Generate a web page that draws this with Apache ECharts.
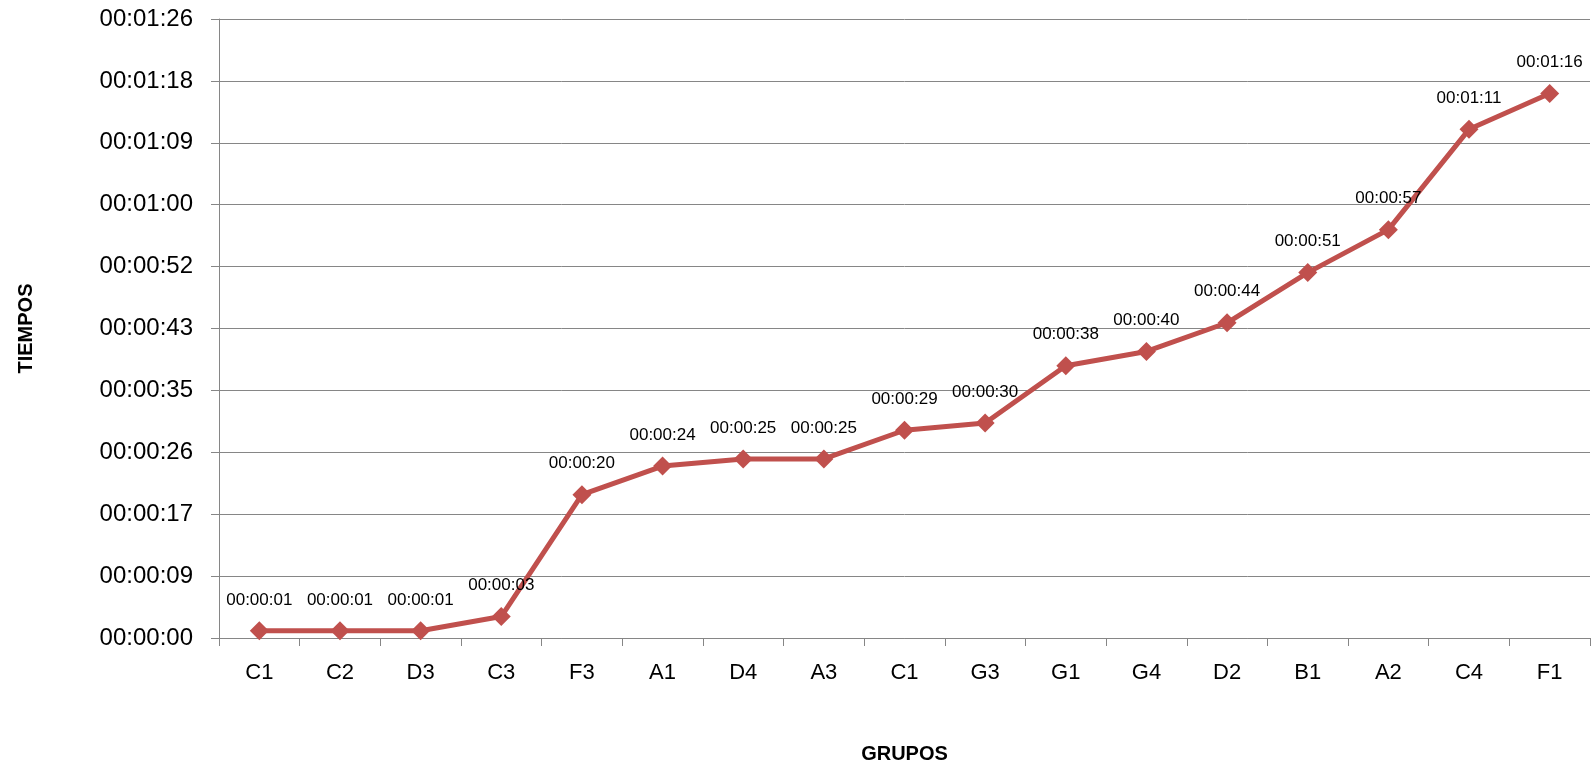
<!DOCTYPE html>
<html>
<head>
<meta charset="utf-8">
<title>Tiempos por grupo</title>
<script src="https://cdn.jsdelivr.net/npm/echarts@6/dist/echarts.min.js"></script>
<style>
  html, body { margin: 0; padding: 0; background: #fff; }
  #chart { width: 1595px; height: 768px; }
</style>
</head>
<body>
<div id="chart"></div>
<script>
// Groups, in plotted order
const grupos = ['C1', 'C2', 'D3', 'C3', 'F3', 'A1', 'D4', 'A3', 'C1', 'G3', 'G1', 'G4', 'D2', 'B1', 'A2', 'C4', 'F1'];
// Times in seconds
const tiempos = [1, 1, 1, 3, 20, 24, 25, 25, 29, 30, 38, 40, 44, 51, 57, 71, 76];
// Value axis: 0 to 86.4 s in steps of 8.64 s
const yMin = 0;
const yMax = 86.4;
const yStep = 8.64;

function hms(sec) {
  const s = Math.round(sec);
  const h = Math.floor(s / 3600);
  const m = Math.floor((s % 3600) / 60);
  const r = s % 60;
  const p = n => String(n).padStart(2, '0');
  return p(h) + ':' + p(m) + ':' + p(r);
}

const font = '"Liberation Sans", Arial, sans-serif';
const gridColor = '#868686';

const chart = echarts.init(document.getElementById('chart'), null, { renderer: 'canvas' });
chart.setOption({
  animation: false,
  backgroundColor: '#ffffff',
  grid: { left: 219, right: 5, top: 19, bottom: 130, containLabel: false, outerBoundsMode: 'none' },
  xAxis: {
    type: 'category',
    data: grupos,
    boundaryGap: true,
    name: 'GRUPOS',
    nameLocation: 'middle',
    nameGap: 106,
    nameTextStyle: { fontFamily: font, fontSize: 20, fontWeight: 'bold', color: '#000' },
    axisLine: { show: true, lineStyle: { color: gridColor, width: 1 } },
    axisTick: { show: true, length: 8, inside: false, alignWithLabel: false, lineStyle: { color: gridColor } },
    axisLabel: { fontFamily: font, fontSize: 22, color: '#000', margin: 24, interval: 0 },
    splitLine: { show: false }
  },
  yAxis: {
    type: 'value',
    min: yMin,
    max: yMax,
    interval: yStep,
    name: 'TIEMPOS',
    nameLocation: 'middle',
    nameRotate: 90,
    nameGap: 183,
    nameTextStyle: { fontFamily: font, fontSize: 20, fontWeight: 'bold', color: '#000' },
    axisLine: { show: true, lineStyle: { color: gridColor, width: 1 } },
    axisTick: { show: true, length: 8, lineStyle: { color: gridColor } },
    axisLabel: { fontFamily: font, fontSize: 24, color: '#000', margin: 26, formatter: v => hms(v) },
    splitLine: { show: true, lineStyle: { color: gridColor, width: 1 } }
  },
  series: [{
    type: 'line',
    data: tiempos,
    symbol: 'diamond',
    symbolSize: 19,
    lineStyle: { color: '#C0504D', width: 5 },
    itemStyle: { color: '#C0504D' },
    label: {
      show: true,
      position: 'top',
      distance: 13,
      fontFamily: font,
      fontSize: 17,
      color: '#000',
      formatter: p => hms(p.value)
    }
  }]
});
</script>
</body>
</html>
